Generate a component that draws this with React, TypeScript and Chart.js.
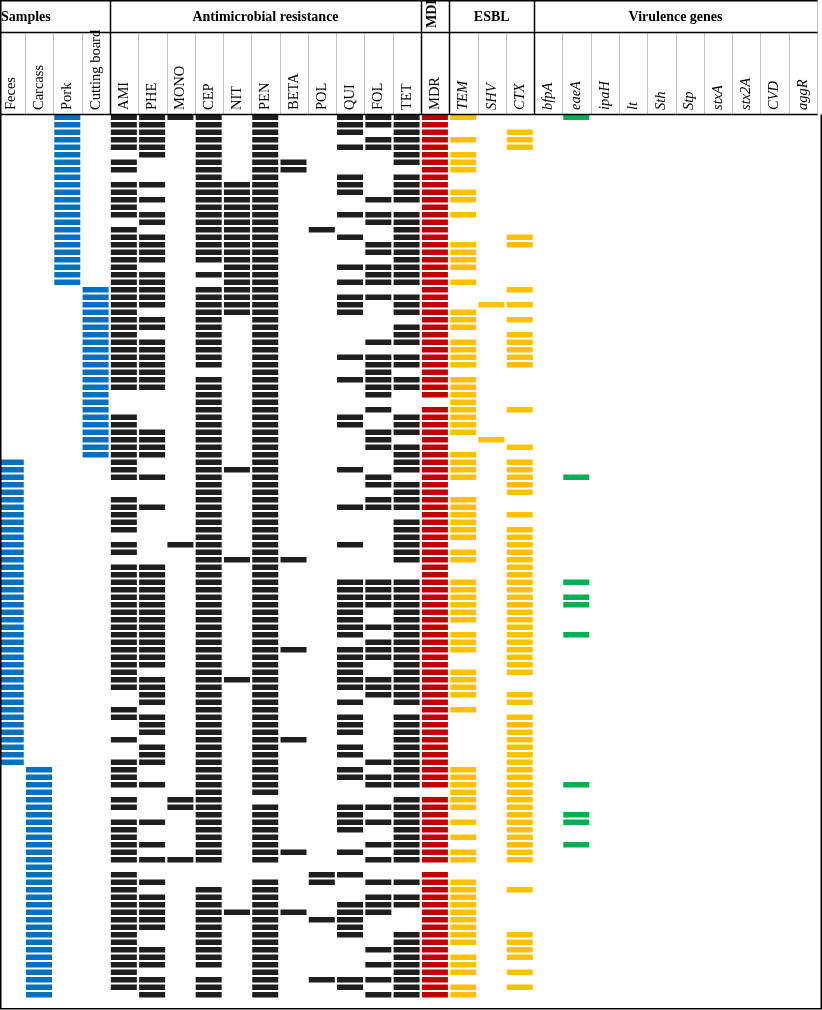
import React, { useEffect, useRef } from "react";
import { Chart, registerables } from "chart.js";

Chart.register(...registerables);

// ---- Column labels ----
const sampleColumns = ["Feces", "Carcass", "Pork", "Cutting board"];
const resistanceColumns = ["AMI", "PHE", "MONO", "CEP", "NIT", "PEN", "BETA", "POL", "QUI", "FOL", "TET"];
const mdrColumns = ["MDR"];
const esblColumns = ["TEM", "SHV", "CTX"];
const virulenceColumns = ["bfpA", "eaeA", "ipaH", "lt", "Sth", "Stp", "stxA", "stx2A", "CVD", "aggR"];

const groupTitles = ["Samples", "Antimicrobial resistance", "MDR", "ESBL", "Virulence genes"];

// ---- Isolate profiles (top to bottom), grouped by sample source ----
const porkIsolates = [
  "AMI PHE MONO CEP PEN QUI FOL TET MDR TEM eaeA",
  "AMI PHE CEP PEN QUI FOL TET MDR",
  "AMI PHE CEP PEN QUI TET MDR CTX",
  "AMI PHE CEP PEN FOL TET MDR TEM CTX",
  "AMI PHE CEP PEN QUI FOL TET MDR CTX",
  "PHE CEP PEN TET MDR TEM",
  "AMI CEP PEN BETA TET MDR TEM",
  "AMI CEP PEN BETA MDR TEM",
  "CEP PEN QUI TET MDR",
  "AMI PHE CEP NIT PEN QUI TET MDR",
  "AMI CEP NIT PEN QUI TET MDR TEM",
  "AMI PHE CEP NIT PEN FOL TET MDR TEM",
  "AMI CEP NIT PEN MDR",
  "AMI PHE CEP NIT PEN QUI FOL TET MDR TEM",
  "PHE CEP NIT PEN FOL TET MDR",
  "AMI CEP NIT PEN POL TET MDR",
  "AMI PHE CEP NIT PEN QUI TET MDR CTX",
  "AMI PHE CEP NIT PEN FOL TET MDR TEM CTX",
  "AMI PHE CEP NIT PEN FOL TET MDR TEM",
  "AMI PHE CEP NIT PEN TET MDR TEM",
  "AMI NIT PEN QUI FOL TET MDR TEM",
  "AMI PHE CEP NIT PEN FOL TET MDR",
  "AMI PHE NIT PEN QUI FOL TET MDR TEM",
];

const cuttingBoardIsolates = [
  "AMI PHE CEP NIT PEN MDR CTX",
  "AMI PHE CEP NIT PEN QUI FOL TET MDR",
  "AMI PHE CEP NIT PEN QUI TET MDR SHV CTX",
  "AMI CEP NIT PEN QUI TET MDR TEM",
  "AMI PHE CEP PEN MDR TEM CTX",
  "AMI PHE CEP PEN TET MDR TEM",
  "AMI CEP PEN TET MDR CTX",
  "AMI PHE CEP PEN FOL TET MDR TEM CTX",
  "AMI PHE CEP PEN MDR TEM CTX",
  "AMI PHE CEP PEN QUI FOL TET MDR TEM CTX",
  "AMI PHE CEP PEN FOL TET MDR TEM CTX",
  "AMI PHE PEN FOL MDR",
  "AMI PHE CEP PEN QUI FOL TET MDR TEM",
  "AMI PHE CEP PEN FOL TET MDR TEM",
  "CEP PEN FOL MDR TEM",
  "CEP PEN TEM",
  "CEP PEN FOL MDR TEM CTX",
  "AMI CEP PEN QUI TET MDR TEM",
  "AMI CEP PEN QUI TET MDR TEM",
  "AMI PHE CEP PEN FOL TET MDR TEM",
  "AMI PHE CEP PEN FOL MDR SHV",
  "AMI PHE CEP PEN FOL TET MDR CTX",
  "AMI PHE CEP PEN TET MDR TEM",
];

const fecesIsolates = [
  "AMI CEP PEN TET MDR TEM CTX",
  "AMI CEP NIT PEN QUI TET MDR TEM CTX",
  "AMI PHE CEP PEN FOL MDR TEM CTX eaeA",
  "CEP PEN FOL TET MDR CTX",
  "CEP PEN TET MDR CTX",
  "AMI CEP PEN FOL TET MDR TEM",
  "AMI PHE CEP PEN QUI FOL TET MDR TEM",
  "AMI CEP PEN MDR TEM CTX",
  "AMI CEP PEN TET MDR TEM",
  "AMI CEP PEN TET MDR TEM CTX",
  "CEP PEN TET MDR TEM CTX",
  "AMI MONO CEP PEN QUI TET MDR CTX",
  "AMI CEP PEN TET MDR TEM CTX",
  "CEP NIT PEN BETA TET MDR TEM CTX",
  "AMI PHE CEP PEN MDR CTX",
  "AMI PHE CEP PEN MDR CTX",
  "AMI PHE CEP PEN QUI FOL TET MDR TEM CTX eaeA",
  "AMI PHE CEP PEN QUI FOL TET MDR TEM CTX",
  "AMI PHE CEP PEN QUI FOL TET MDR TEM CTX eaeA",
  "AMI PHE CEP PEN QUI FOL TET MDR TEM CTX eaeA",
  "AMI PHE CEP PEN QUI TET MDR TEM CTX",
  "AMI PHE CEP PEN QUI TET MDR TEM CTX",
  "AMI PHE CEP PEN QUI FOL TET MDR CTX",
  "AMI PHE CEP PEN QUI TET MDR TEM CTX eaeA",
  "AMI PHE CEP PEN FOL TET MDR TEM CTX",
  "AMI PHE CEP PEN BETA QUI FOL TET MDR TEM CTX",
  "AMI PHE CEP PEN QUI FOL TET MDR CTX",
  "AMI PHE CEP PEN QUI TET MDR CTX",
  "AMI CEP PEN QUI TET MDR TEM CTX",
  "AMI PHE CEP NIT PEN QUI FOL TET MDR TEM",
  "AMI PHE CEP PEN QUI FOL TET MDR TEM",
  "PHE CEP PEN FOL TET MDR TEM CTX",
  "PHE CEP PEN QUI TET MDR CTX",
  "AMI CEP PEN MDR TEM",
  "AMI PHE CEP PEN QUI TET MDR CTX",
  "PHE CEP PEN QUI TET MDR CTX",
  "PHE CEP PEN QUI TET MDR CTX",
  "AMI CEP PEN BETA TET MDR CTX",
  "PHE CEP PEN QUI TET MDR CTX",
  "PHE CEP PEN QUI TET MDR CTX",
  "AMI PHE CEP PEN FOL TET MDR CTX",
];

const carcassIsolates = [
  "AMI CEP PEN QUI TET MDR TEM CTX",
  "AMI CEP PEN QUI FOL TET MDR TEM CTX",
  "AMI PHE CEP PEN FOL TET MDR TEM CTX eaeA",
  "CEP PEN TEM CTX",
  "AMI MONO CEP TET MDR TEM CTX",
  "AMI MONO CEP PEN QUI FOL TET MDR TEM CTX",
  "CEP PEN QUI TET MDR CTX eaeA",
  "AMI PHE CEP PEN QUI FOL TET MDR TEM CTX eaeA",
  "AMI CEP PEN QUI TET MDR CTX",
  "AMI CEP PEN TET MDR TEM CTX",
  "AMI PHE CEP PEN FOL TET MDR CTX eaeA",
  "AMI CEP PEN BETA QUI TET MDR TEM CTX",
  "AMI PHE MONO CEP PEN FOL TET MDR TEM CTX",
  "",
  "AMI POL QUI MDR",
  "AMI PHE PEN POL FOL TET MDR TEM",
  "AMI CEP PEN MDR TEM CTX",
  "AMI PHE CEP PEN FOL TET MDR TEM",
  "AMI PHE CEP PEN QUI FOL TET MDR TEM",
  "AMI PHE CEP NIT PEN BETA QUI FOL MDR TEM",
  "AMI PHE CEP PEN POL QUI MDR TEM",
  "AMI PHE CEP PEN QUI MDR TEM",
  "AMI CEP PEN QUI TET MDR TEM CTX",
  "AMI CEP PEN TET MDR TEM CTX",
  "AMI PHE CEP PEN FOL TET MDR CTX",
  "AMI PHE CEP PEN TET MDR TEM CTX",
  "AMI PHE CEP PEN FOL TET MDR TEM",
  "AMI PEN TET MDR TEM CTX",
  "AMI PHE CEP PEN POL QUI FOL TET MDR",
  "AMI PHE CEP PEN QUI TET MDR TEM CTX",
  "PHE CEP PEN FOL TET MDR TEM",
];

const groupColors = ["#0070C0", "#1E1E1E", "#C00000", "#FFC000", "#00B050"];

// ---- Derived tables ----
const groups = [sampleColumns, resistanceColumns, mdrColumns, esblColumns, virulenceColumns];
const columns = groups.flat();
const groupOfColumn: number[] = [];
groups.forEach((g, gi) => g.forEach(() => groupOfColumn.push(gi)));

const rows = [
  ...porkIsolates.map((p) => ({ sample: "Pork", markers: p.split(" ") })),
  ...cuttingBoardIsolates.map((p) => ({ sample: "Cutting board", markers: p.split(" ") })),
  ...fecesIsolates.map((p) => ({ sample: "Feces", markers: p.split(" ") })),
  ...carcassIsolates.map((p) => ({ sample: "Carcass", markers: p.split(" ") })),
];
const rowLabels = rows.map((_, i) => "Isolate " + (i + 1));

const FONT = "'Liberation Serif', 'Times New Roman', serif";

const headerPlugin = {
  id: "headerGrid",
  afterDraw(chart: any) {
    const ctx = chart.ctx as CanvasRenderingContext2D;
    const xs = chart.scales.x;
    const edge = (i: number) => xs.getPixelForValue(i);
    const W = chart.width;
    const H = chart.height;
    const right = Math.round(edge(columns.length)) + 0.5;
    const hb = Math.round(chart.chartArea.top) + 0.5;
    const boundaries: number[] = [];
    let acc = 0;
    groups.forEach((g) => {
      acc += g.length;
      boundaries.push(acc);
    });

    ctx.save();
    // grey column separators in the label row
    ctx.strokeStyle = "#c4c4c4";
    ctx.lineWidth = 1;
    for (let i = 1; i < columns.length; i++) {
      if (boundaries.includes(i)) continue;
      const x = Math.round(edge(i)) + 0.5;
      ctx.beginPath();
      ctx.moveTo(x, 33);
      ctx.lineTo(x, hb);
      ctx.stroke();
    }
    ctx.beginPath();
    ctx.moveTo(right, 0);
    ctx.lineTo(right, hb);
    ctx.stroke();

    // black group boundaries
    ctx.strokeStyle = "#000";
    ctx.lineWidth = 1.5;
    boundaries.slice(0, -1).forEach((b) => {
      const x = Math.round(edge(b)) + 0.5;
      ctx.beginPath();
      ctx.moveTo(x, 0);
      ctx.lineTo(x, hb);
      ctx.stroke();
    });
    // horizontal header lines
    [0.75, 32.5, hb].forEach((y) => {
      ctx.beginPath();
      ctx.moveTo(0, y);
      ctx.lineTo(right, y);
      ctx.stroke();
    });
    // outer border of the body
    ctx.beginPath();
    ctx.moveTo(0.75, 0);
    ctx.lineTo(0.75, H - 1.25);
    ctx.lineTo(W - 0.75, H - 1.25);
    ctx.lineTo(W - 0.75, hb);
    ctx.stroke();

    // group titles
    ctx.fillStyle = "#000";
    ctx.font = "bold 14px " + FONT;
    ctx.textBaseline = "alphabetic";
    let start = 0;
    groups.forEach((g, gi) => {
      const x0 = edge(start);
      const x1 = edge(start + g.length);
      const title = groupTitles[gi];
      if (gi === 0) {
        ctx.textAlign = "left";
        ctx.fillText(title, 1, 21);
      } else if (g.length === 1) {
        ctx.save();
        ctx.translate((x0 + x1) / 2 - 3, 28);
        ctx.rotate(-Math.PI / 2);
        ctx.textAlign = "left";
        ctx.textBaseline = "middle";
        ctx.fillText(title, 0, 0);
        ctx.restore();
      } else {
        ctx.textAlign = "center";
        ctx.fillText(title, (x0 + x1) / 2, 21);
      }
      start += g.length;
    });

    // column labels (rotated)
    columns.forEach((label, c) => {
      const gi = groupOfColumn[c];
      const italic = gi === 3 || gi === 4;
      ctx.save();
      ctx.font = (italic ? "italic " : "") + "14.5px " + FONT;
      ctx.translate((edge(c) + edge(c + 1)) / 2, 110);
      ctx.rotate(-Math.PI / 2);
      ctx.textAlign = "left";
      ctx.textBaseline = "middle";
      ctx.fillText(label, 0, 0);
      ctx.restore();
    });
    ctx.restore();
  },
};

export default function App() {
  const canvasRef = useRef<HTMLCanvasElement | null>(null);

  useEffect(() => {
    document.body.style.margin = "0";
    const canvas = canvasRef.current;
    if (!canvas) return;

    const datasets = columns.map((col, c) => ({
      label: col,
      data: rows.map((r) => {
        const on = c < sampleColumns.length ? r.sample === col : r.markers.includes(col);
        return on ? [c + 0.03, c + 0.95] : null;
      }),
      backgroundColor: groupColors[groupOfColumn[c]],
      borderWidth: 0,
      grouped: false,
      barPercentage: 0.72,
      categoryPercentage: 1,
    }));

    const chart = new Chart(canvas, {
      type: "bar",
      data: { labels: rowLabels, datasets: datasets as any },
      options: {
        indexAxis: "y",
        animation: false,
        responsive: false,
        devicePixelRatio: 1,
        layout: { padding: { top: 113.55, bottom: 11.45, left: 0, right: 0 } },
        scales: {
          x: { type: "linear", min: 0.11, max: 29.18, display: false },
          y: { type: "category", display: false, offset: true },
        },
        plugins: {
          legend: { display: false },
          tooltip: { enabled: false },
          title: { display: false },
        },
      },
      plugins: [headerPlugin],
    });
    return () => chart.destroy();
  }, []);

  return (
    <div style={{ width: 822, height: 1010, background: "#fff" }}>
      <canvas ref={canvasRef} width={822} height={1010} style={{ display: "block" }} />
    </div>
  );
}
